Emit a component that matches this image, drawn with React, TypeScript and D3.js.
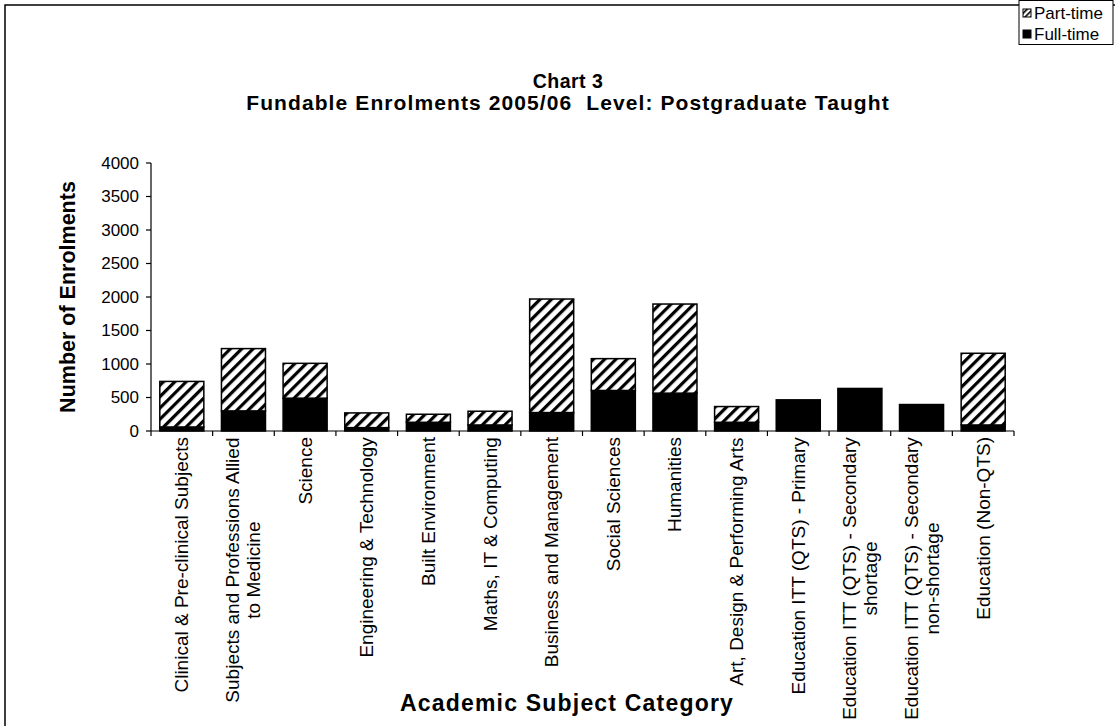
import React from "react";
import * as d3 from "d3";

const categories: string[][] = [
  ["Clinical & Pre-clinical Subjects"],
  ["Subjects and Professions Allied", "to Medicine"],
  ["Science"],
  ["Engineering & Technology"],
  ["Built Environment"],
  ["Maths, IT & Computing"],
  ["Business and Management"],
  ["Social Sciences"],
  ["Humanities"],
  ["Art, Design & Performing Arts"],
  ["Education ITT (QTS) - Primary"],
  ["Education ITT (QTS) - Secondary", "shortage"],
  ["Education ITT (QTS) - Secondary", "non-shortage"],
  ["Education (Non-QTS)"],
];
const fullTime = [60, 300, 490, 50, 130, 90, 275, 605, 565, 130, 465, 635, 395, 90];
const partTime = [680, 930, 520, 220, 120, 205, 1695, 475, 1330, 235, 0, 0, 0, 1070];
const yTicks = [0, 500, 1000, 1500, 2000, 2500, 3000, 3500, 4000];
const seriesNames = ["Part-time", "Full-time"];

const FONT = "Arial, 'Liberation Sans', sans-serif";

function measure(text: string, font: string, spacing: number): number {
  const c = document.createElement("canvas");
  const ctx = c.getContext("2d");
  if (!ctx) return text.length * 9;
  ctx.font = font;
  return ctx.measureText(text).width + spacing * text.length;
}

export default function App() {
  const W = 1115;
  const H = 726;
  const left = 151;
  const right = 1014;
  const top = 163;
  const bottom = 431;

  const x = d3
    .scaleBand<number>()
    .domain(d3.range(categories.length))
    .range([left, right])
    .paddingInner(0.4 / 1.4)
    .paddingOuter(0.2 / 1.4);
  const xStep = (right - left) / categories.length;
  const y = d3.scaleLinear().domain([0, 4000]).range([bottom, top]);

  const catFontSize = 19;
  const catSpacing = 0;
  const catFont = `${catFontSize}px Arial, 'Liberation Sans'`;
  const lineH = 21;

  return (
    <svg
      width={W}
      height={H}
      style={{ position: "absolute", left: 0, top: 0, background: "#fff" }}
      fontFamily={FONT}
    >
      <defs>
        <pattern
          id="hatch"
          patternUnits="userSpaceOnUse"
          width={8}
          height={8}
          patternTransform="rotate(45)"
        >
          <rect width={8} height={8} fill="#fff" />
          <rect x={0} y={0} width={3.2} height={8} fill="#000" />
        </pattern>
        <pattern
          id="hatchSmall"
          patternUnits="userSpaceOnUse"
          width={4}
          height={4}
          patternTransform="rotate(45)"
        >
          <rect width={4} height={4} fill="#fff" />
          <rect x={0} y={0} width={1.6} height={4} fill="#000" />
        </pattern>
      </defs>
      <rect x={5} y={5} width={W + 20} height={H + 20} fill="#fff" stroke="#000" strokeWidth={1.5} />

      {/* Title */}
      <text x={568} y={88} textAnchor="middle" fontWeight="bold" fontSize={19.5} letterSpacing={0.5}>
        Chart 3
      </text>
      <text
        x={568}
        y={110}
        textAnchor="middle"
        fontWeight="bold"
        fontSize={21}
        letterSpacing={1.1}
        style={{ whiteSpace: "pre" }}
      >
        {"Fundable Enrolments 2005/06  Level: Postgraduate Taught"}
      </text>

      {/* Bars */}
      {categories.map((_, i) => {
        const ft = fullTime[i];
        const pt = partTime[i];
        const bx = x(i) ?? 0;
        const bw = x.bandwidth();
        return (
          <g key={i}>
            <rect
              x={bx}
              y={y(ft)}
              width={bw}
              height={y(0) - y(ft)}
              fill="#000"
              stroke="#000"
              strokeWidth={1.5}
            />
            {pt > 0 && (
              <rect
                x={bx}
                y={y(ft + pt)}
                width={bw}
                height={y(ft) - y(ft + pt)}
                fill="url(#hatch)"
                stroke="#000"
                strokeWidth={1.5}
              />
            )}
          </g>
        );
      })}

      {/* Y axis */}
      <line x1={left} x2={left} y1={top} y2={bottom} stroke="#000" strokeWidth={1.2} />
      {yTicks.map((t) => (
        <g key={t}>
          <line x1={left - 5} x2={left} y1={y(t)} y2={y(t)} stroke="#000" strokeWidth={1.2} />
          <text x={left - 12} y={y(t)} textAnchor="end" dominantBaseline="central" fontSize={17}>
            {t}
          </text>
        </g>
      ))}

      {/* X axis */}
      <line x1={left} x2={right} y1={bottom} y2={bottom} stroke="#000" strokeWidth={1.2} />
      {d3.range(categories.length + 1).map((i) => (
        <line
          key={i}
          x1={left + i * xStep}
          x2={left + i * xStep}
          y1={bottom}
          y2={bottom + 5}
          stroke="#000"
          strokeWidth={1.2}
        />
      ))}
      {categories.map((lines, i) => {
        const cx = (x(i) ?? 0) + x.bandwidth() / 2;
        const maxLen = Math.max(...lines.map((l) => measure(l, catFont, catSpacing)));
        const yc = bottom + 6 + maxLen / 2;
        const n = lines.length;
        return (
          <g key={i}>
            {lines.map((l, k) => {
              const lx = cx + (k - (n - 1) / 2) * lineH;
              return (
                <text
                  key={k}
                  x={lx}
                  y={yc}
                  transform={`rotate(-90 ${lx} ${yc})`}
                  textAnchor="middle"
                  dominantBaseline="central"
                  fontSize={catFontSize}
                  letterSpacing={catSpacing}
                >
                  {l}
                </text>
              );
            })}
          </g>
        );
      })}

      {/* Axis titles */}
      <text
        x={68}
        y={297}
        transform="rotate(-90 68 297)"
        textAnchor="middle"
        dominantBaseline="central"
        fontWeight="bold"
        fontSize={21.5}
      >
        Number of Enrolments
      </text>
      <text
        x={567}
        y={711}
        textAnchor="middle"
        fontWeight="bold"
        fontSize={23}
        letterSpacing={1.2}
      >
        Academic Subject Category
      </text>

      {/* Legend */}
      <rect x={1019} y={0.5} width={94} height={44} fill="#fff" stroke="#000" strokeWidth={1} />
      {seriesNames.map((s, k) => (
        <g key={s}>
          <rect
            x={1023}
            y={9 + k * 21}
            width={8}
            height={8}
            fill={k === 0 ? "url(#hatchSmall)" : "#000"}
            stroke="#000"
            strokeWidth={1}
          />
          <text x={1034} y={13 + k * 21} dominantBaseline="central" fontSize={17}>
            {s}
          </text>
        </g>
      ))}
    </svg>
  );
}
